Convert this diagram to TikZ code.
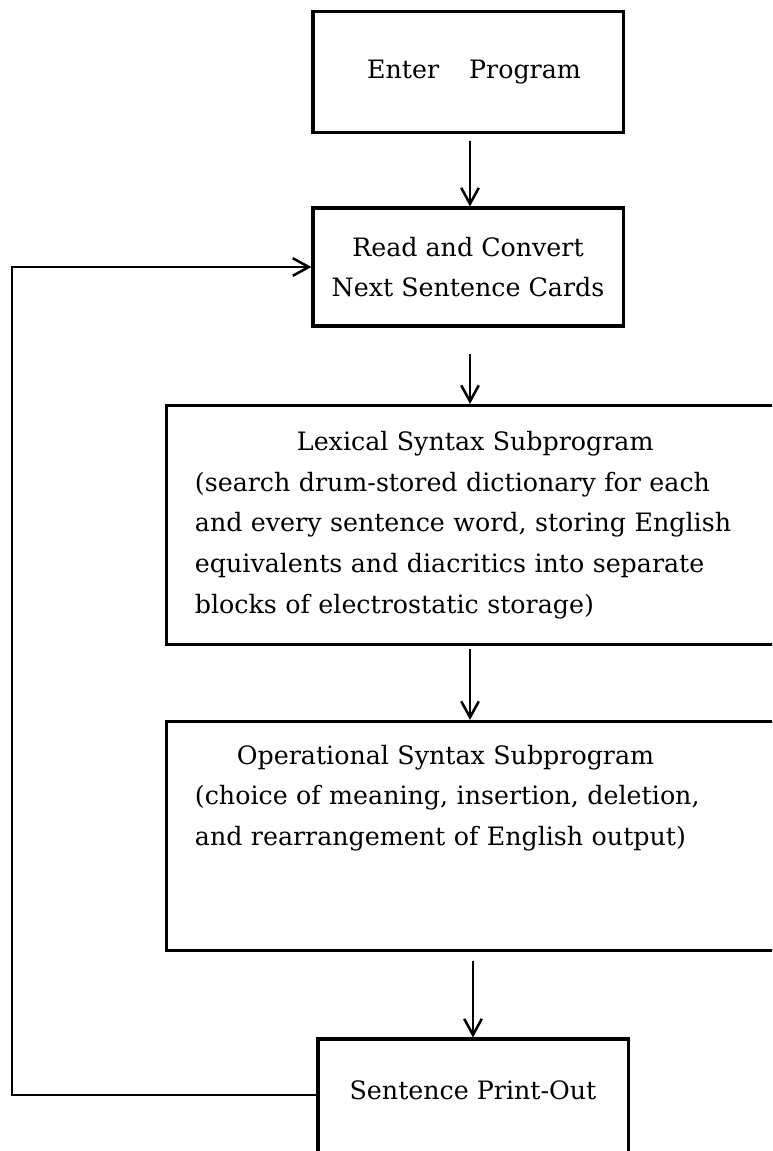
\documentclass[tikz,border=0pt]{standalone}
\usepackage{fontspec}
\setmainfont{DejaVu Serif}
\usetikzlibrary{arrows.meta}
\tikzset{
  box/.style={draw, rectangle, line width=2.2pt, inner sep=0pt,
    font=\fontsize{18}{29}\selectfont},
  flow/.style={line width=1.8pt,
    -{Straight Barb[length=4mm,width=4.4mm,line width=1.8pt]}},
}
\begin{document}
\begin{tikzpicture}[x=0.025cm, y=-0.025cm]
      \useasboundingbox (0,0) rectangle (772,1151);
      \clip (0,0) rectangle (772,1151);
      \draw
        (468,72) node[box, minimum width=7.75cm, minimum height=3.025cm] (enter)
          {\hspace*{0.3cm}Enter\hspace{0.75cm}Program}
        (468,267) node[box, minimum width=7.75cm, minimum height=2.95cm, align=center] (read)
          {Read and Convert\\Next Sentence Cards}
        (483.5,525) node[box, minimum width=15.825cm, minimum height=5.975cm,
            text width=14.425cm, align=left] (lex)
          {\hspace*{2.55cm}Lexical Syntax Subprogram\\
           (search drum-stored dictionary for each\\
           and every sentence word, storing English\\
           equivalents and diacritics into separate\\
           blocks of electrostatic storage)}
        (483.5,836) node[box, minimum width=15.825cm, minimum height=5.725cm,
            text width=14.425cm, align=left] (ops)
          {\hspace*{1.05cm}Operational Syntax Subprogram\\
           (choice of meaning, insertion, deletion,\\
           and rearrangement of English output)\\
           \mbox{}\\
           \mbox{}}
        (473,1101) node[box, minimum width=7.75cm, minimum height=3.1cm,
            text depth=0.53cm] (print)
          {Sentence Print-Out};
      \coordinate (left) at (12,0);
      \begin{scope}[flow]
        \draw[shorten <=5pt] (enter.south -| 470,0) to (read.north -| 470,0);
        \draw[shorten <=19pt] (read.south -| 470,0) to (lex.north -| 470,0);
        \draw[shorten <=2pt] (lex.south -| 470,0) to (ops.north -| 470,0);
        \draw[shorten <=6pt] (ops.south -| print.north) to (print.north);
        \draw ([yshift=0.15cm]print.west) -- ([yshift=0.15cm]print.west -| left)
          |- (read.west);
      \end{scope}
    \end{tikzpicture}
\end{document}
